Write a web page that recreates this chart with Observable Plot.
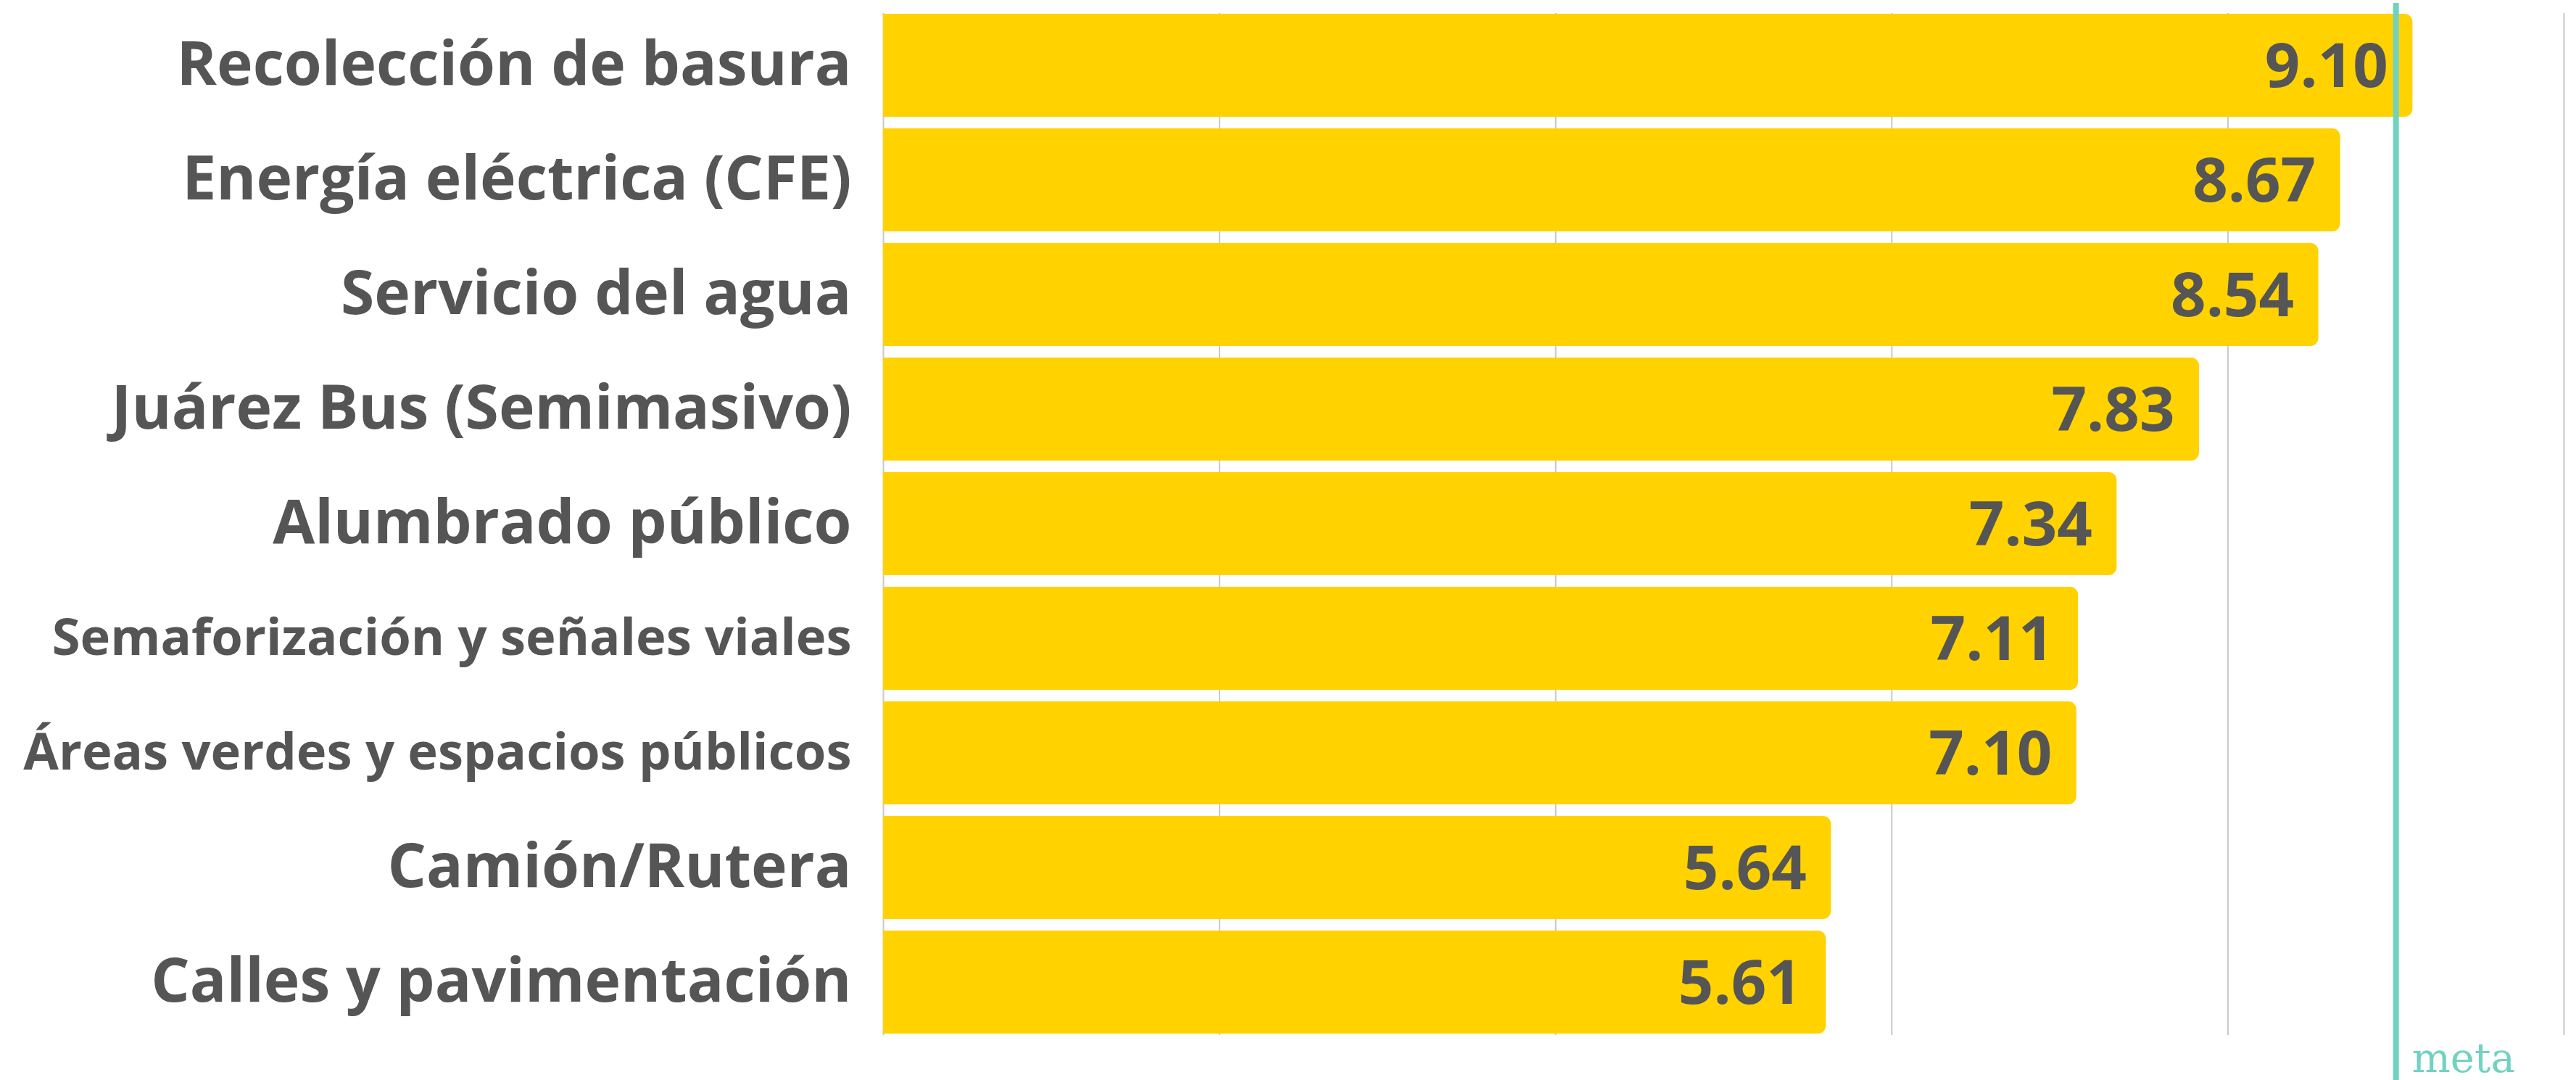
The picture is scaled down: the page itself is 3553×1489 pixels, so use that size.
<!DOCTYPE html>
<html>
<head>
<meta charset="utf-8">
<script src="https://cdn.jsdelivr.net/npm/d3@7"></script>
<script src="https://cdn.jsdelivr.net/npm/@observablehq/plot@0.6"></script>
<style>
  html, body { margin: 0; padding: 0; background: #ffffff; }
  #chart svg { display: block; }
</style>
</head>
<body>
<div id="chart"></div>
<script>
const categories = [
  "Recolección de basura",
  "Energía eléctrica (CFE)",
  "Servicio del agua",
  "Juárez Bus (Semimasivo)",
  "Alumbrado público",
  "Semaforización y señales viales",
  "Áreas verdes y espacios públicos",
  "Camión/Rutera",
  "Calles y pavimentación"
];
const values = [9.10, 8.67, 8.54, 7.83, 7.34, 7.11, 7.10, 5.64, 5.61];
const metaValue = 9.0;
const metaLabel = "meta";
const xTicks = [0, 2, 4, 6, 8, 10];

const data = categories.map((c, i) => ({category: c, value: values[i]}));
const fmt = d3.format(".2f");

const textColor = "#555555";
const barColor = "#FFD200";
const metaColor = "#72D2C0";

const chart = Plot.plot({
  width: 3553,
  height: 1489,
  marginTop: 18,
  marginBottom: 62,
  marginLeft: 1218,
  marginRight: 17,
  style: {background: "#ffffff", fontFamily: "'Open Sans', sans-serif"},
  x: {domain: [0, 10], axis: null},
  y: {domain: categories, paddingInner: 0.1, paddingOuter: 0, axis: null},
  marks: [
    Plot.gridX(xTicks, {stroke: "#c8c8c8", strokeOpacity: 1, strokeWidth: 2}),
    Plot.barX(data, {x: "value", y: "category", fill: barColor, rx2: 11}),
    Plot.text(data, {
      x: "value", y: "category", text: d => fmt(d.value),
      textAnchor: "end", dx: -34, dy: 2,
      fontSize: 85, fontWeight: 700, fill: textColor,
      fontFamily: "'Open Sans', sans-serif"
    }),
    Plot.text(data, {
      x: 0, y: "category", text: "category",
      textAnchor: "end", dx: -44,
      fontSize: d => d.category.length > 28 ? 70.5 : 84,
      fontWeight: 700, fill: textColor,
      fontFamily: "'Open Sans', sans-serif"
    }),
    Plot.ruleX([metaValue], {stroke: metaColor, strokeWidth: 8, insetTop: -14, insetBottom: -62}),
    Plot.text([metaValue], {
      x: d => d, text: () => metaLabel, frameAnchor: "bottom",
      textAnchor: "start", lineAnchor: "bottom", dx: 22, dy: 50,
      fontSize: 56, fontWeight: 300, fill: metaColor,
      fontFamily: "'DejaVu Serif', serif"
    })
  ]
});
document.getElementById("chart").appendChild(chart);
</script>
</body>
</html>
